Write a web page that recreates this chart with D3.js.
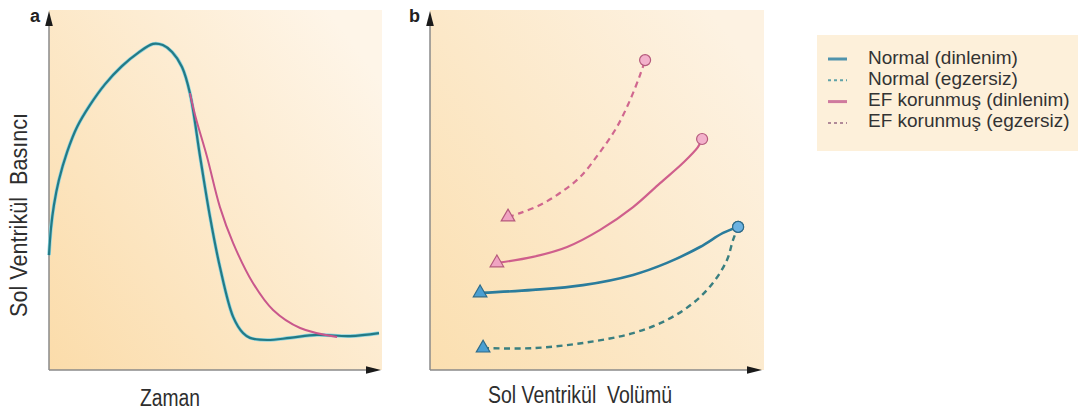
<!DOCTYPE html>
<html>
<head>
<meta charset="utf-8">
<script src="https://cdn.jsdelivr.net/npm/d3@7"></script>
<style>
  html, body { margin: 0; padding: 0; background: #ffffff; }
  svg { display: block; }
  text { font-family: "Liberation Sans", Arial, sans-serif; }
</style>
</head>
<body>
<div id="chart"></div>
<script>
// ---------- DATA ----------
// Panel a: left ventricular pressure over time
const timeA = [0, 0.6, 1.5, 3.0, 5.5, 8.5, 12.4, 17.0, 22.1, 27.0, 31.5, 34.5, 37.3, 40.3, 42.7, 45.8, 48.8, 51.8, 55.8, 58.8, 60.9, 66.1, 73.0, 81.2, 91.2, 100];
const normalPressureA = [38.3, 47.3, 55, 63.3, 72.7, 81, 88.3, 95.3, 101.3, 105.7, 108.7, 108.3, 106, 101, 92.3, 71, 51, 34.3, 17.7, 12.3, 10.7, 10, 10.7, 11.7, 11.3, 12.3];
const efTimeA = [42.7, 44.5, 47.9, 51.8, 55.8, 61.8, 67.9, 76.1, 87.3];
const efPressureA = [92.3, 84, 71, 54.3, 42.3, 29, 20, 14, 11];

// Panel b: pressure–volume relationships
const normRestVol = [16.7, 34.3, 51, 67.7, 79, 90, 97.7, 102.7];
const normRestP   = [25.7, 26.7, 28.3, 31.7, 35.7, 41, 45.7, 47.7];
const normExVol   = [17.7, 34.3, 51, 67.7, 79, 87.7, 94.3, 99, 101, 102.7];
const normExP     = [7.3, 7.3, 9, 12.3, 16.7, 22.3, 29, 36.7, 43.3, 47.7];
const efRestVol   = [22.3, 34.3, 45.7, 56.7, 67.7, 76.7, 84.3, 89.3, 90.7];
const efRestP     = [35.7, 37.7, 41, 46.7, 54.3, 62.3, 69, 74.3, 77];
const efExVol     = [26, 30, 36.7, 43.3, 50, 56.7, 62.3, 66.7, 70, 71.7];
const efExP       = [51, 52.3, 55, 59, 64.3, 72.7, 81, 90, 98.3, 103.3];

const legendLabels = ["Normal (dinlenim)", "Normal (egzersiz)", "EF korunmuş (dinlenim)", "EF korunmuş (egzersiz)"];
const panelLabels = ["a", "b"];
const xTitles = ["Zaman", "Sol Ventrikül  Volümü"];
const yTitle = "Sol Ventrikül  Basıncı";

// ---------- DRAW ----------
const W = 1080, H = 415;
const svg = d3.select("#chart").append("svg").attr("width", W).attr("height", H);

const defs = svg.append("defs");
function grad(id, c1, c2) {
  const g = defs.append("linearGradient").attr("id", id)
    .attr("x1", "0").attr("y1", "1").attr("x2", "1").attr("y2", "0.2");
  g.append("stop").attr("offset", "0%").attr("stop-color", c1);
  g.append("stop").attr("offset", "100%").attr("stop-color", c2);
}
grad("bgA", "#fbdcaa", "#fef5e8");
grad("bgB", "#fbdfb0", "#fdf2e2");

const yP = d3.scaleLinear().domain([0, 120]).range([370, 10]);
const xA = d3.scaleLinear().domain([0, 100]).range([49, 379]);
const xB = d3.scaleLinear().domain([0, 110]).range([430, 760]);

// backgrounds
svg.append("rect").attr("x", xA(0)).attr("y", yP(120)).attr("width", 333).attr("height", yP(0) - yP(120)).attr("fill", "url(#bgA)");
svg.append("rect").attr("x", xB(0)).attr("y", yP(120)).attr("width", 334).attr("height", yP(0) - yP(120)).attr("fill", "url(#bgB)");

// axes with arrows
function axes(x0, xEnd) {
  const y0 = yP(0);
  svg.append("line").attr("x1", x0).attr("y1", y0).attr("x2", x0).attr("y2", 22)
    .attr("stroke", "#8a8a8a").attr("stroke-width", 1.5);
  svg.append("line").attr("x1", x0).attr("y1", y0).attr("x2", xEnd - 12).attr("y2", y0)
    .attr("stroke", "#8a8a8a").attr("stroke-width", 1.5);
  svg.append("path").attr("d", `M${x0},11 L${x0 - 3.8},26 L${x0 + 3.8},26 Z`).attr("fill", "#1a1a1a");
  svg.append("path").attr("d", `M${xEnd},${y0} L${xEnd - 15},${y0 - 3.8} L${xEnd - 15},${y0 + 3.8} Z`).attr("fill", "#1a1a1a");
}
axes(xA(0), 381);
axes(xB(0), 762);

// panel labels
svg.append("text").attr("x", 30).attr("y", 22).text(panelLabels[0])
  .attr("font-size", 18).attr("font-weight", "bold").attr("fill", "#222");
svg.append("text").attr("x", 409).attr("y", 22).text(panelLabels[1])
  .attr("font-size", 18).attr("font-weight", "bold").attr("fill", "#222");

// axis titles
svg.append("text").attr("x", 170).attr("y", 406).attr("text-anchor", "middle")
  .attr("font-size", 23).attr("fill", "#2e2e2e")
  .attr("textLength", 60).attr("lengthAdjust", "spacingAndGlyphs")
  .style("white-space", "pre").text(xTitles[0]);
svg.append("text").attr("x", 580).attr("y", 403).attr("text-anchor", "middle")
  .attr("font-size", 23).attr("fill", "#2e2e2e")
  .attr("textLength", 184).attr("lengthAdjust", "spacingAndGlyphs")
  .style("white-space", "pre").text(xTitles[1]);
svg.append("text").attr("transform", "translate(27,215) rotate(-90)").attr("text-anchor", "middle")
  .attr("font-size", 23).attr("fill", "#2e2e2e")
  .attr("textLength", 204).attr("lengthAdjust", "spacingAndGlyphs")
  .style("white-space", "pre").text(yTitle);

// ---------- Panel a curves ----------
const lineA = d3.line().x(d => xA(d[0])).y(d => yP(d[1])).curve(d3.curveCatmullRom.alpha(0.5));
const normA = timeA.map((t, i) => [t, normalPressureA[i]]);
const efA = efTimeA.map((t, i) => [t, efPressureA[i]]);

svg.append("path").attr("d", lineA(normA)).attr("fill", "none")
  .attr("stroke", "#8fd6e0").attr("stroke-width", 3.6).attr("stroke-linejoin", "round");
svg.append("path").attr("d", lineA(normA)).attr("fill", "none")
  .attr("stroke", "#237a86").attr("stroke-width", 2.2).attr("stroke-linejoin", "round");
svg.append("path").attr("d", lineA(efA)).attr("fill", "none")
  .attr("stroke", "#c9578c").attr("stroke-width", 2);

// ---------- Panel b curves ----------
const lineB = d3.line().x(d => xB(d[0])).y(d => yP(d[1])).curve(d3.curveCatmullRom.alpha(0.5));
const seriesB = [
  { vol: normExVol,   p: normExP,   color: "#3a7f80", dash: "6,4.5", width: 2.4, mFill: "#4a9fd2", mStroke: "#2f6b88", cFill: "#6cb2e2" },
  { vol: efExVol,     p: efExP,     color: "#d0678f", dash: "6,4.5", width: 2.2, mFill: "#f0a4c2", mStroke: "#b55a7c", cFill: "#f3b1cb" },
  { vol: efRestVol,   p: efRestP,   color: "#cf5f8c", dash: null,    width: 2.2, mFill: "#f0a4c2", mStroke: "#b55a7c", cFill: "#f3b1cb" },
  { vol: normRestVol, p: normRestP, color: "#2a7c9c", dash: null,    width: 2.6, mFill: "#4a9fd2", mStroke: "#2f6b88", cFill: "#6cb2e2" }
];

seriesB.forEach(s => {
  const pts = s.vol.map((v, i) => [v, s.p[i]]);
  const path = svg.append("path").attr("d", lineB(pts)).attr("fill", "none")
    .attr("stroke", s.color).attr("stroke-width", s.width);
  if (s.dash) path.attr("stroke-dasharray", s.dash);
});
seriesB.forEach(s => {
  const n = s.vol.length;
  const x0 = xB(s.vol[0]), y0 = yP(s.p[0]);
  svg.append("path").attr("d", d3.symbol(d3.symbolTriangle, 80)())
    .attr("transform", `translate(${x0},${y0})`)
    .attr("fill", s.mFill).attr("stroke", s.mStroke).attr("stroke-width", 1.2);
  svg.append("circle").attr("cx", xB(s.vol[n - 1])).attr("cy", yP(s.p[n - 1])).attr("r", 5.5)
    .attr("fill", s.cFill).attr("stroke", s.mStroke).attr("stroke-width", 1.2);
});

// ---------- Legend ----------
svg.append("rect").attr("x", 817).attr("y", 35).attr("width", 261).attr("height", 116).attr("fill", "#fdf0da");
const legendStyles = [
  { color: "#4f93ac", dash: null, w: 3 },
  { color: "#5fa2a8", dash: "3,3", w: 2 },
  { color: "#cf7a9e", dash: null, w: 3 },
  { color: "#b08a98", dash: "3,3", w: 2 }
];
legendLabels.forEach((lab, i) => {
  const by = 63.5 + i * 21.3;
  const st = legendStyles[i];
  const ln = svg.append("line").attr("x1", 828).attr("x2", 847).attr("y1", by - 4.5).attr("y2", by - 4.5)
    .attr("stroke", st.color).attr("stroke-width", st.w);
  if (st.dash) ln.attr("stroke-dasharray", st.dash);
  svg.append("text").attr("x", 868).attr("y", by).attr("font-size", 19).attr("fill", "#333")
    .text(lab);
});
</script>
</body>
</html>
